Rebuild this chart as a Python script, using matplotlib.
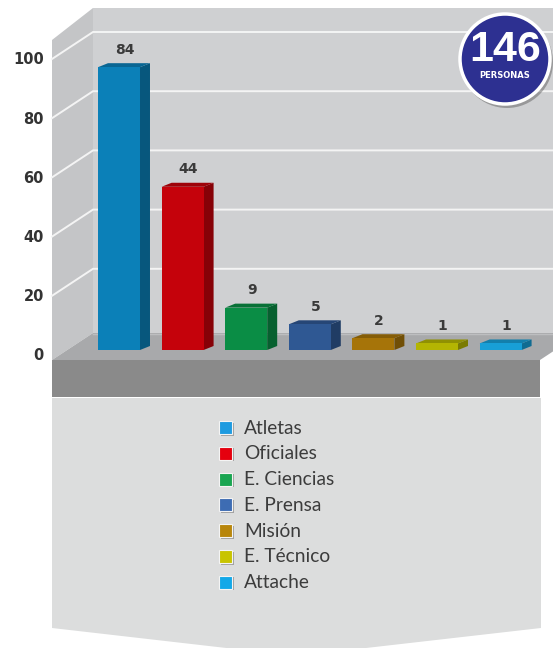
import matplotlib
matplotlib.use("Agg")
import matplotlib.pyplot as plt
import matplotlib.patches as mpatches
import numpy as np

# data
categories = ["Atletas", "Oficiales", "E. Ciencias", "E. Prensa", "Misión", "E. Técnico", "Attache"]
counts = [84, 44, 9, 5, 2, 1, 1]
y_ticks = [0, 20, 40, 60, 80, 100]
badge_caption = "PERSONAS"

bar_colors = ["#0b80b8", "#c5020b", "#0a8d45", "#2f5893", "#a67409", "#b4b502", "#189fd7"]
swatch_colors = ["#1e9be0", "#e5000e", "#19a551", "#3d6cb3", "#b8860b", "#c8c400", "#12a8e8"]

W, H = 553, 648
DEPTH_X, DEPTH_Y = 10, 4      # pseudo 3d offset of the bars, pixels
POW = 0.85                    # the original bars are not drawn on a linear scale


def shade(color, f):
    r, g, b = matplotlib.colors.to_rgb(color)
    return (r * f, g * f, b * f)


def wall_front(v):
    # tick position on the front edge of the left wall
    return 355 - 2.96 * v


fig = plt.figure(figsize=(W / 100, H / 100), dpi=100)
fig.patch.set_facecolor("white")

# background axes in image pixels (y down)
bg = fig.add_axes([0, 0, 1, 1])
bg.set_xlim(0, W)
bg.set_ylim(H, 0)
bg.axis("off")

# back wall, left wall, floor, front slab
bg.add_patch(mpatches.Polygon([(93, 8), (W, 8), (W, 333), (93, 333)], closed=True,
                              fc="#cfd0d2", ec="none", zorder=1))
bg.add_patch(mpatches.Polygon([(52, 40), (93, 8), (93, 333), (52, 360)], closed=True,
                              fc="#c4c5c7", ec="none", zorder=1))

for v in y_ticks[1:]:
    yf = wall_front(v)
    yb = yf - 27
    bg.plot([52, 93, W], [yf, yb, yb], color="#f4f4f4", lw=1.4, zorder=2,
            solid_joinstyle="miter")

bg.add_patch(mpatches.Polygon([(52, 360), (93, 333), (581, 333), (540, 360)], closed=True,
                              fc="#a8a9ab", ec="none", zorder=3))
bg.plot([93, W], [333.5, 333.5], color="#bdbec0", lw=1, zorder=3)
bg.add_patch(mpatches.Rectangle((52, 360), 488, 37, fc="#8a8a8a", ec="none", zorder=3))

# legend panel with chevron bottom
bg.add_patch(mpatches.Polygon([(52, 398), (541, 398), (541, 628), (296, 656), (52, 628)],
                              closed=True, fc="#dcdddd", ec="none", zorder=1))

# y tick labels on the wall
for v in y_ticks:
    bg.text(44, wall_front(v) + 1, str(v), ha="right", va="center", fontsize=10.5,
            fontweight="bold", color="#333333", family="DejaVu Sans", zorder=5)

# bars
bar_left = 119 - 31.8
ax = fig.add_axes([bar_left / W, (H - 350) / H, 7 * 63.6 / W, 328 / H])
ax.set_yscale("function", functions=(lambda y: np.sign(y) * np.abs(y) ** POW,
                                     lambda y: np.sign(y) * np.abs(y) ** (1 / POW)))
ax.set_xlim(-0.5, 6.5)
ax.set_ylim(0, 100)
ax.axis("off")
ax.patch.set_alpha(0)

x = np.arange(len(categories))
width = 0.66
ax.bar(x, counts, width=width, color=bar_colors, zorder=3)

to_bg = bg.transData.inverted()
for i, v in enumerate(counts):
    (xl, y0), (xr, y1) = to_bg.transform(ax.transData.transform([(i - width / 2, 0), (i + width / 2, v)]))
    side = [(xr, y0), (xr, y1), (xr + DEPTH_X, y1 - DEPTH_Y), (xr + DEPTH_X, y0 - DEPTH_Y)]
    top = [(xl, y1), (xr, y1), (xr + DEPTH_X, y1 - DEPTH_Y), (xl + DEPTH_X, y1 - DEPTH_Y)]
    bg.add_patch(mpatches.Polygon(side, closed=True, fc=shade(bar_colors[i], 0.68), ec="none", zorder=4))
    bg.add_patch(mpatches.Polygon(top, closed=True, fc=shade(bar_colors[i], 0.8), ec="none", zorder=4))
    ax.annotate(str(v), xy=(i, v), xytext=(4, 12.5), textcoords="offset points",
                ha="center", va="center", fontsize=10, fontweight="bold",
                color="#3a3a3a", family="DejaVu Sans")

# total badge
bg.add_patch(mpatches.Circle((507, 62), 46, fc="#555555", alpha=0.45, ec="none", zorder=6))
bg.add_patch(mpatches.Circle((505, 59), 45, fc="#2d3091", ec="white", lw=2.5, zorder=7))
bg.text(505, 50, str(sum(counts)), ha="center", va="center", color="white", fontsize=31,
        fontweight="bold", family=["Liberation Sans Narrow", "Liberation Sans"], zorder=8)
bg.text(505, 76, badge_caption, ha="center", va="center", color="white", fontsize=6,
        fontweight="bold", family="DejaVu Sans", zorder=8)

# legend
for i, (cat, col) in enumerate(zip(categories, swatch_colors)):
    yc = 428 + 25.8 * i
    bg.add_patch(mpatches.Rectangle((220.5, yc - 5.5), 13, 13, fc="#7a7a7a", alpha=0.6, ec="none", zorder=4))
    bg.add_patch(mpatches.Rectangle((219, yc - 7), 13, 13, fc=col, ec="#f4f4f4", lw=0.8, zorder=5))
    bg.text(244, yc, cat, ha="left", va="center", fontsize=13.8, color="#3c3c3c",
            family="Lato", zorder=5)

fig.savefig("out.png", dpi=100)
